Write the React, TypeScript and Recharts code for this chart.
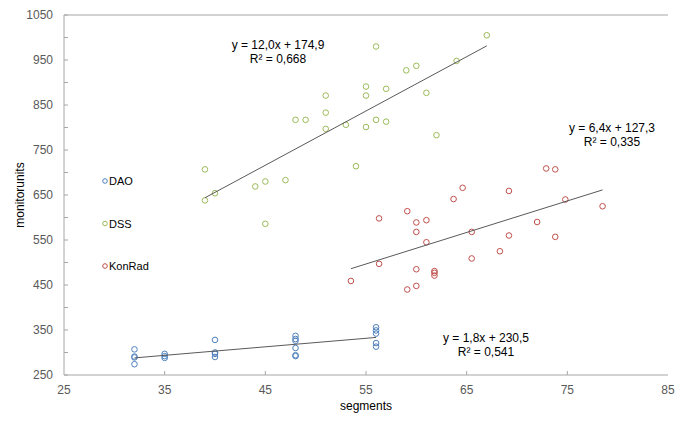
import { ScatterChart, Scatter, XAxis, YAxis, ReferenceLine } from 'recharts';

// DAO
const daoSegments = [32, 32, 32, 32, 35, 35, 35, 40, 40, 40, 40, 48, 48, 48, 48, 48, 48, 56, 56, 56, 56, 56];
const daoUnits = [307, 291, 289, 274, 297, 292, 288, 328, 300, 297, 290, 337, 330, 326, 310, 294, 292, 356, 349, 342, 321, 313];

// DSS
const dssSegments = [39, 39, 40, 44, 45, 45, 47, 48, 49, 51, 51, 51, 53, 54, 55, 55, 55, 56, 56, 57, 57, 59, 60, 61, 62, 64, 67];
const dssUnits = [707, 638, 654, 669, 680, 586, 683, 817, 817, 871, 833, 797, 806, 714, 891, 871, 801, 980, 817, 886, 813, 927, 937, 877, 783, 948, 1005];

// KonRad
const konSegments = [53.5, 56.3, 56.3, 59.1, 59.1, 60, 60, 60, 60, 61, 61, 61.8, 61.8, 61.8, 63.7, 64.6, 65.5, 65.5, 68.3, 69.2, 69.2, 72, 72.9, 73.8, 73.8, 74.8, 78.5];
const konUnits = [459, 598, 497, 614, 440, 589, 568, 485, 448, 594, 545, 481, 477, 471, 641, 666, 568, 509, 525, 659, 560, 590, 709, 707, 557, 640, 625];

const xTicks = [25, 35, 45, 55, 65, 75, 85];
const yTicks = [250, 300, 350, 400, 450, 500, 550, 600, 650, 700, 750, 800, 850, 900, 950, 1000, 1050];

const series = [
  { name: 'DAO', color: '#4f81bd', xs: daoSegments, ys: daoUnits },
  { name: 'DSS', color: '#9bbb59', xs: dssSegments, ys: dssUnits },
  { name: 'KonRad', color: '#c0504d', xs: konSegments, ys: konUnits },
];

const FONT = '"Liberation Sans", Arial, sans-serif';
const AXIS = '#a6a6a6';
const TEXT = '#595959';

const toPoints = (xs: number[], ys: number[]) => xs.map((x, i) => ({ x, y: ys[i] }));

// least squares line across the series' x range
function trend(xs: number[], ys: number[]) {
  const n = xs.length;
  const mx = xs.reduce((a, b) => a + b, 0) / n;
  const my = ys.reduce((a, b) => a + b, 0) / n;
  let sxy = 0;
  let sxx = 0;
  xs.forEach((x, i) => {
    sxy += (x - mx) * (ys[i] - my);
    sxx += (x - mx) * (x - mx);
  });
  const b = sxy / sxx;
  const a = my - b * mx;
  const lo = Math.min(...xs);
  const hi = Math.max(...xs);
  return [
    { x: lo, y: a + b * lo },
    { x: hi, y: a + b * hi },
  ];
}

const Ring = (color: string) => (props: any) => {
  const { cx, cy } = props;
  if (cx == null || cy == null) return <g />;
  return <circle cx={cx} cy={cy} r={2.8} fill="none" stroke={color} strokeWidth={1} />;
};

const NoDot = () => <g />;

const XTick = (props: any) => {
  const { x, y, payload } = props;
  const inner = payload.value !== 25 && payload.value !== 85;
  return (
    <g>
      {inner && <line x1={x} y1={y} x2={x} y2={y - 4} stroke={AXIS} />}
      <text x={x} y={y + 19} textAnchor="middle" fill={TEXT} fontSize={12} fontFamily={FONT}>
        {payload.value}
      </text>
    </g>
  );
};

const YTick = (props: any) => {
  const { x, y, payload } = props;
  const labelled = (payload.value - 250) % 100 === 0;
  return (
    <g>
      <line x1={x} y1={y} x2={x + 4} y2={y} stroke={AXIS} />
      {labelled && (
        <text x={x - 11} y={y + 4} textAnchor="end" fill={TEXT} fontSize={12} fontFamily={FONT}>
          {payload.value}
        </text>
      )}
    </g>
  );
};

const RightTick = (props: any) => {
  const { x, y } = props;
  return <line x1={x - 4} y1={y} x2={x} y2={y} stroke={AXIS} />;
};

// legend drawn inside the svg so it takes no room from the plot
const SeriesKey = ({ x, y, gap }: { x: number; y: number; gap: number }) => (
  <g>
    {series.map((s, i) => (
      <g key={s.name}>
        <circle cx={x} cy={y + i * gap} r={2.3} fill="none" stroke={s.color} strokeWidth={1} />
        <text x={x + 4} y={y + i * gap + 4} fill="#000" fontSize={11} fontFamily={FONT}>
          {s.name}
        </text>
      </g>
    ))}
  </g>
);

const Note = ({ x, y, lines }: { x: number; y: number; lines: string[] }) => (
  <text x={x} y={y} textAnchor="middle" fill="#000" fontSize={12} fontFamily={FONT}>
    {lines.map((l, i) => (
      <tspan key={i} x={x} dy={i === 0 ? 0 : 13.5}>
        {l}
      </tspan>
    ))}
  </text>
);

export default function App() {
  return (
    <div style={{ position: 'absolute', left: 0, top: 0, width: 685, height: 423, background: '#fff' }}>
      <ScatterChart width={685} height={423} margin={{ top: 15, right: 17, bottom: 0, left: 0 }}>
        <XAxis
          type="number"
          dataKey="x"
          domain={[25, 85]}
          ticks={xTicks}
          height={48}
          tickSize={0}
          tickMargin={0}
          tickLine={false}
          tick={XTick}
          axisLine={{ stroke: AXIS }}
          interval={0}
        />
        <YAxis
          type="number"
          dataKey="y"
          domain={[250, 1050]}
          ticks={yTicks}
          width={64}
          tickSize={0}
          tickMargin={0}
          tickLine={false}
          tick={YTick}
          axisLine={{ stroke: AXIS }}
          interval={0}
        />
        <YAxis
          yAxisId="right"
          orientation="right"
          type="number"
          domain={[250, 1050]}
          ticks={yTicks}
          width={0}
          tickSize={0}
          tickMargin={0}
          tickLine={false}
          tick={RightTick}
          axisLine={{ stroke: AXIS }}
          interval={0}
        />
        <ReferenceLine y={1050} stroke={AXIS} />
        {series.map((s) => (
          <Scatter
            key={s.name}
            name={s.name}
            data={toPoints(s.xs, s.ys)}
            fill={s.color}
            shape={Ring(s.color)}
            isAnimationActive={false}
          />
        ))}
        {series.map((s) => (
          <Scatter
            key={s.name + '-trend'}
            data={trend(s.xs, s.ys)}
            line={{ stroke: '#595959', strokeWidth: 1 }}
            shape={NoDot}
            legendType="none"
            isAnimationActive={false}
          />
        ))}
        <SeriesKey x={105} y={181} gap={42.5} />
        <Note x={278} y={49} lines={['y = 12,0x + 174,9', 'R² = 0,668']} />
        <Note x={612} y={132} lines={['y = 6,4x + 127,3', 'R² = 0,335']} />
        <Note x={486} y={342} lines={['y = 1,8x + 230,5', 'R² = 0,541']} />
        <text x={366} y={410} textAnchor="middle" fill="#000" fontSize={12} fontFamily={FONT}>
          segments
        </text>
        <text
          x={24}
          y={195}
          transform="rotate(-90 24 195)"
          textAnchor="middle"
          fill="#000"
          fontSize={12}
          fontFamily={FONT}
        >
          monitorunits
        </text>
      </ScatterChart>
    </div>
  );
}
